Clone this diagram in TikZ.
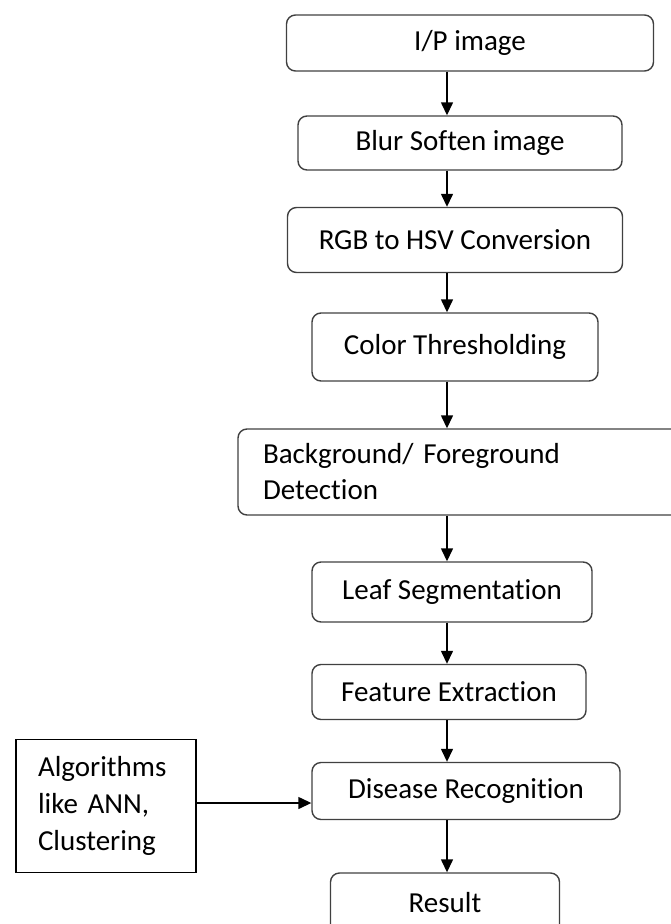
\documentclass[tikz,border=0pt]{standalone}
\usepackage{fontspec}
\setmainfont{Carlito}[Ligatures=NoCommon]
\usetikzlibrary{arrows.meta, positioning}

\begin{document}
\begin{tikzpicture}[x=1pt, y=-1pt, >={Triangle[width=12pt,length=13pt]}, line width=1.4pt,
    stage/.style={draw=black!75, rounded corners=9pt, align=center, inner sep=0pt, font=\fontsize{29}{36}\selectfont},
    source/.style={draw=black, align=left, inner sep=0pt, font=\fontsize{29}{37}\selectfont}]
    \useasboundingbox (0,0) rectangle (670,924);

    \node[stage, minimum width=367pt, minimum height=56pt] (ip) at (470,43) {I/P image};
    \node[stage, minimum width=324pt, minimum height=54pt] (blur) at (460,143) {Blur Soften image};
    \node[stage, minimum width=335pt, minimum height=65pt] (hsv) at (455,240) {RGB to HSV Conversion};
    \node[stage, minimum width=286pt, minimum height=68pt] (thresh) at (455,347) {Color Thresholding};
    \node[stage, minimum width=462pt, minimum height=86pt, text width=412pt, align=left] (bgfg) at (469,472) {Background/ Foreground\\Detection};
    \node[stage, minimum width=280pt, minimum height=60pt] (leaf) at (452,592) {Leaf Segmentation};
    \node[stage, minimum width=274pt, minimum height=55pt] (feat) at (449,692) {Feature Extraction};
    \node[stage, minimum width=308pt, minimum height=57pt] (disease) at (466,791) {Disease Recognition};
    \node[stage, minimum width=229pt, minimum height=60pt] (result) at (445,903) {Result};

    \node[source, minimum width=180pt, minimum height=133pt, text width=136pt] (algo) at (106,806) {Algorithms\\like ANN,\\Clustering};

    % all arrows run down one column
    \coordinate (spine) at (447,0);
    \draw[->] (ip.south -| spine) -- (blur.north -| spine);
    \draw[->] (blur.south -| spine) -- (hsv.north -| spine);
    \draw[->] (hsv.south -| spine) -- (thresh.north -| spine);
    \draw[->] (thresh.south -| spine) -- (bgfg.north -| spine);
    \draw[->] (bgfg.south -| spine) -- (leaf.north -| spine);
    \draw[->] (leaf.south -| spine) -- (feat.north -| spine);
    \draw[->] (feat.south -| spine) -- (disease.north -| spine);
    \draw[->] (disease.south -| spine) -- (result.north -| spine);

    \draw[->] (algo.east |- 0,803) -- (disease.west |- 0,803);
\end{tikzpicture}
\end{document}
